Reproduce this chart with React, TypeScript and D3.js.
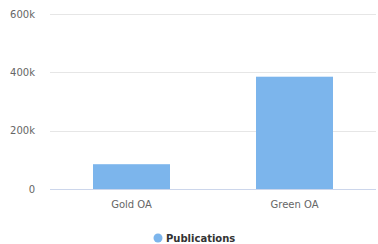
import React, { useRef, useEffect } from "react";
import * as d3 from "d3";

const categories = ["Gold OA", "Green OA"];
const publications = [85000, 385000];
const yTicks = [0, 200000, 400000, 600000];
const seriesName = "Publications";

const App = () => {
	const chartRef = useRef<SVGSVGElement>(null);

	useEffect(() => {
		const width = 378;
		const height = 244;
		const margin = { top: 14, right: 2, bottom: 55, left: 50 };

		const svg = d3.select(chartRef.current);
		svg.selectAll("*").remove();
		svg.attr("width", width).attr("height", height);

		const band = d3.scaleBand().domain(categories).range([margin.left, width - margin.right]);

		const y = d3.scaleLinear()
			.domain([0, 600000])
			.range([height - margin.bottom, margin.top]);

		// gridlines
		svg.append("g")
			.selectAll("line")
			.data(yTicks.filter(d => d > 0))
			.enter()
			.append("line")
			.attr("x1", margin.left)
			.attr("x2", width - margin.right)
			.attr("y1", d => Math.round(y(d)) + 0.5)
			.attr("y2", d => Math.round(y(d)) + 0.5)
			.attr("stroke", "#e6e6e6")
			.attr("stroke-width", 1);

		// y labels
		svg.append("g")
			.selectAll("text")
			.data(yTicks)
			.enter()
			.append("text")
			.attr("x", 35)
			.attr("y", d => y(d) + 3.5)
			.attr("text-anchor", "end")
			.attr("font-family", "DejaVu Sans, sans-serif")
			.attr("font-size", 10)
			.attr("fill", "#666")
			.text(d => d === 0 ? "0" : `${d / 1000}k`);

		// bars
		svg.append("g")
			.selectAll("rect")
			.data(publications)
			.enter()
			.append("rect")
			.attr("x", (d, i) => band(categories[i])! + band.bandwidth() / 2 - 38.5)
			.attr("width", 77)
			.attr("y", d => y(d))
			.attr("height", d => y(0) - y(d))
			.attr("fill", "#7cb5ec");

		// x axis line
		svg.append("line")
			.attr("x1", margin.left)
			.attr("x2", width - margin.right)
			.attr("y1", Math.round(y(0)) + 0.5)
			.attr("y2", Math.round(y(0)) + 0.5)
			.attr("stroke", "#ccd6eb");

		// category labels
		svg.append("g")
			.selectAll("text")
			.data(categories)
			.enter()
			.append("text")
			.attr("x", d => band(d)! + band.bandwidth() / 2)
			.attr("y", y(0) + 19)
			.attr("text-anchor", "middle")
			.attr("font-family", "DejaVu Sans, sans-serif")
			.attr("font-size", 10)
			.attr("fill", "#666")
			.text(d => d);

		// legend
		const legend = svg.append("g").attr("transform", "translate(158, 238)");
		legend.append("circle")
			.attr("cx", 0)
			.attr("cy", 0)
			.attr("r", 4.5)
			.attr("fill", "#7cb5ec");
		legend.append("text")
			.attr("x", 8)
			.attr("y", 3.5)
			.attr("font-family", "DejaVu Sans, sans-serif")
			.attr("font-size", 10)
			.attr("font-weight", "bold")
			.attr("fill", "#333")
			.text(seriesName);
	}, []);

	return <svg ref={chartRef} style={{ position: "absolute", left: 0, top: 0 }}></svg>;
};

export default App;
